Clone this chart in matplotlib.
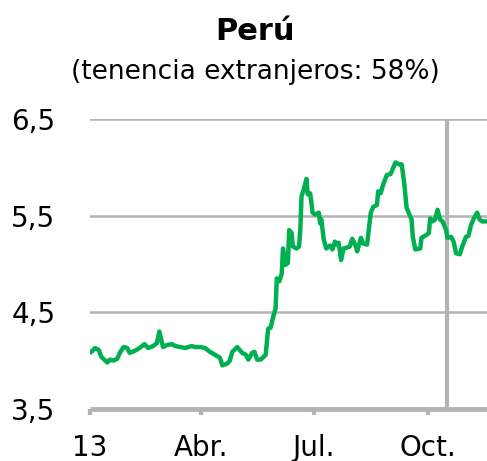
import matplotlib
matplotlib.use("Agg")
import matplotlib.pyplot as plt
import pandas as pd

# dias desde el 1 de enero de 2013 y rendimiento (%)
days = [
    1, 4, 7, 9, 14, 16, 19, 22, 24, 27, 30, 32, 36, 40, 44, 47, 51, 54, 56, 59,
    62, 66, 69, 73, 77, 82, 85, 89, 93, 97, 101, 105, 107, 111, 113, 115, 119,
    123, 126, 128, 131, 133, 135, 138, 142, 143, 144, 146, 148, 150, 151, 153,
    155, 156, 158, 160, 161, 163, 164, 167, 169, 170, 171, 173, 175, 176, 178,
    180, 182, 185, 186, 187, 189, 191, 194, 196, 198, 200, 201, 203, 205, 208,
    210, 212, 215, 216, 219, 221, 224, 227, 229, 232, 233, 235, 237, 240, 243,
    245, 247, 250, 252, 254, 256, 260, 261, 263, 267, 268, 272, 274, 275, 277,
    279, 281, 283, 285, 288, 289, 292, 294, 296, 299, 301, 304, 306, 308, 310,
    313, 315, 317, 321,
]
yields = [
    4.09, 4.13, 4.11, 4.04, 3.98, 4.01, 4.00, 4.02, 4.08, 4.14, 4.13, 4.08, 4.10,
    4.13, 4.17, 4.13, 4.15, 4.18, 4.30, 4.14, 4.16, 4.17, 4.15, 4.14, 4.13, 4.15,
    4.14, 4.14, 4.13, 4.09, 4.06, 4.03, 3.95, 3.97, 4.00, 4.09, 4.14, 4.08, 4.06,
    4.01, 4.08, 4.09, 4.01, 4.01, 4.06, 4.20, 4.33, 4.34, 4.45, 4.54, 4.85, 4.82,
    4.90, 5.16, 4.99, 5.01, 5.35, 5.32, 5.18, 5.16, 5.18, 5.35, 5.70, 5.78, 5.88,
    5.72, 5.73, 5.53, 5.51, 5.53, 5.42, 5.46, 5.25, 5.16, 5.19, 5.15, 5.23, 5.20,
    5.22, 5.04, 5.16, 5.17, 5.18, 5.26, 5.18, 5.13, 5.27, 5.21, 5.20, 5.53, 5.59,
    5.61, 5.75, 5.73, 5.82, 5.92, 5.93, 5.99, 6.05, 6.03, 6.03, 5.84, 5.58, 5.46,
    5.28, 5.15, 5.16, 5.27, 5.30, 5.32, 5.47, 5.44, 5.46, 5.56, 5.46, 5.44, 5.35,
    5.27, 5.28, 5.23, 5.11, 5.10, 5.18, 5.28, 5.29, 5.40, 5.46, 5.53, 5.46, 5.44,
    5.44,
]
marker_date = "2013-10-17"
x_ticks = ["2013-01-01", "2013-04-01", "2013-07-01", "2013-10-01"]
x_labels = ["13", "Abr.", "Jul.", "Oct."]
y_ticks = [3.5, 4.5, 5.5, 6.5]
y_labels = ["3,5", "4,5", "5,5", "6,5"]

plt.rcParams["font.family"] = ["DejaVu Sans"]

start = pd.Timestamp("2013-01-01")
dates = start + pd.to_timedelta(days, unit="D")

fig = plt.figure(figsize=(4.87, 4.61), dpi=100)
ax = fig.add_axes([0.185, 0.113, 0.815, 0.629])

grey = "#b3b3b3"
for y in y_ticks[1:]:
    ax.axhline(y, color=grey, lw=1.8, zorder=1)
ax.plot([pd.Timestamp(marker_date)] * 2, [3.5, 6.5], color=grey, lw=3, zorder=1)
ax.plot(dates, yields, color="#00b050", lw=3.2, zorder=3, solid_joinstyle="round")

ax.set_xlim(start, start + pd.Timedelta(days=321))
ax.set_ylim(3.5, 6.5)
ax.set_xticks(pd.to_datetime(x_ticks))
ax.set_xticklabels(x_labels)
ax.set_yticks(y_ticks)
ax.set_yticklabels(y_labels)

for side in ["top", "right", "left"]:
    ax.spines[side].set_visible(False)
ax.spines["bottom"].set_color(grey)
ax.spines["bottom"].set_linewidth(3.5)
ax.spines["bottom"].set_capstyle("butt")
ax.tick_params(axis="x", length=4, width=3, color=grey, labelsize=20, pad=14)
ax.tick_params(axis="y", length=0, labelsize=20, pad=25)

fig.text(255 / 487, 1 - 31 / 461, "Perú", ha="center", va="center",
         fontsize=22, fontweight="bold")
fig.text(255 / 487, 1 - 72 / 461, "(tenencia extranjeros: 58%)", ha="center",
         va="center", fontsize=19)

fig.savefig("out.png", dpi=100)
